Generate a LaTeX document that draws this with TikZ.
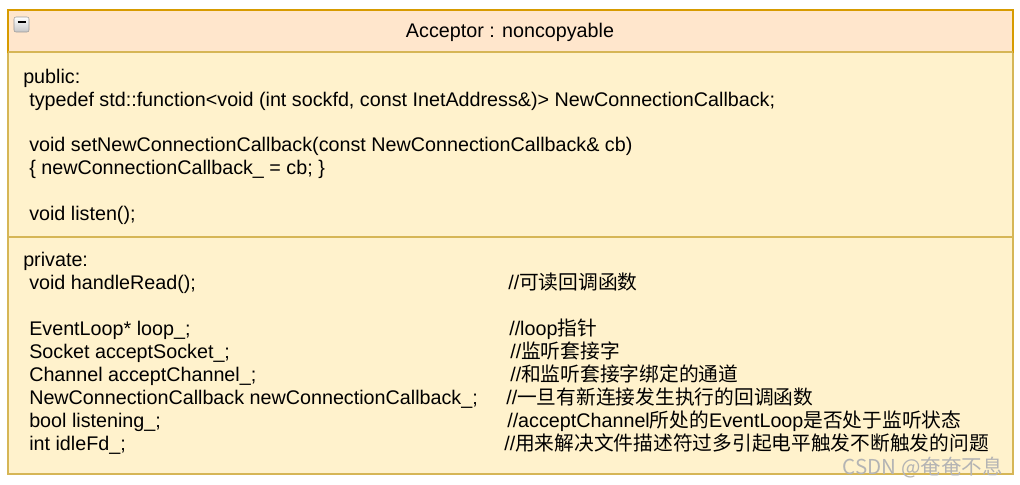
\documentclass[tikz,border=0pt]{standalone}
\usepackage{fontspec}
\setmainfont{Liberation Sans}
\newfontfamily\cjk{Noto Sans CJK SC}
\definecolor{headfill}{HTML}{FFE6CC}
\definecolor{headline}{HTML}{D79B00}
\definecolor{bodyfill}{HTML}{FFF2CC}
\definecolor{bodyline}{HTML}{D6B656}
\definecolor{marktext}{HTML}{B4B4B4}

\tikzset{
  codeline/.style={anchor=base west, inner sep=0pt, font=\fontsize{14.8}{17}\selectfont},
  noteline/.style={codeline},
}

\begin{document}
\begin{tikzpicture}[x=0.75pt, y=-0.75pt]
    \useasboundingbox (0,0) rectangle (1020,485);

    % Class box: header and body
    \draw[bodyline, fill=bodyfill, line width=1.2pt] (8,52) rectangle (1013,474);
    \draw[headline, fill=headfill, line width=1.2pt] (8,10) rectangle (1013,52);
    \draw[bodyline, line width=1.2pt] (8,52) -- (1013,52);
    \draw[bodyline, line width=1.2pt] (8,237) -- (1013,237);

    % Collapse icon
    \draw[gray!80, rounded corners=1.5pt, top color=white, bottom color=gray!45] (14,17) rectangle (29,32);
    \draw[black, line width=1.4pt] (17.5,22) -- (25.5,22);

    % Title
    \node[codeline, anchor=base] (title) at (510,38) {Acceptor : noncopyable};

    % Public part
    \node[codeline] (pub) at (23,84) {public:};
    \node[codeline] (cbtype) at (29,106.5) {typedef std::function<void (int sockfd, const InetAddress\&)> NewConnectionCallback;};
    \node[codeline] (setcb) at (29,151) {void setNewConnectionCallback(const NewConnectionCallback\& cb)};
    \node[codeline] (setbody) at (29,174) {\{ newConnectionCallback\_ = cb; \}};
    \node[codeline] (listen) at (29,220) {void listen();};

    % Private part
    \node[codeline] (priv) at (23,266.5) {private:};
    \node[codeline] (hread) at (29,289.5) {void handleRead();};
    \node[codeline] (loop) at (29,335.5) {EventLoop* loop\_;};
    \node[codeline] (sock) at (29,358.5) {Socket acceptSocket\_;};
    \node[codeline] (chan) at (29,381.5) {Channel acceptChannel\_;};
    \node[codeline] (newcb) at (29,404.5) {NewConnectionCallback newConnectionCallback\_;};
    \node[codeline] (listening) at (29,427.5) {bool listening\_;};
    \node[codeline] (idle) at (29,450.5) {int idleFd\_;};

    % Comments
    \node[noteline] (hreadnote) at (508,289.5) {//{\cjk 可读回调函数}};
    \node[noteline] (loopnote) at (509,335.5) {//loop{\cjk 指针}};
    \node[noteline] (socknote) at (510,358.5) {//{\cjk 监听套接字}};
    \node[noteline] (channote) at (510,381.5) {//{\cjk 和监听套接字绑定的通道}};
    \node[noteline] (newcbnote) at (506,404.5) {//{\cjk 一旦有新连接发生执行的回调函数}};
    \node[noteline] (listeningnote) at (507,427.5) {//acceptChannel{\cjk 所处的}EventLoop{\cjk 是否处于监听状态}};
    \node[noteline] (idlenote) at (504,450.5) {//{\cjk 用来解决文件描述符过多引起电平触发不断触发的问题}};

    % Watermark
    \node[anchor=base east, inner sep=0pt, text=marktext, font=\cjk\fontsize{15.4}{17}\selectfont] (mark) at (1003,474) {CSDN @奄奄不息};
\end{tikzpicture}
\end{document}
